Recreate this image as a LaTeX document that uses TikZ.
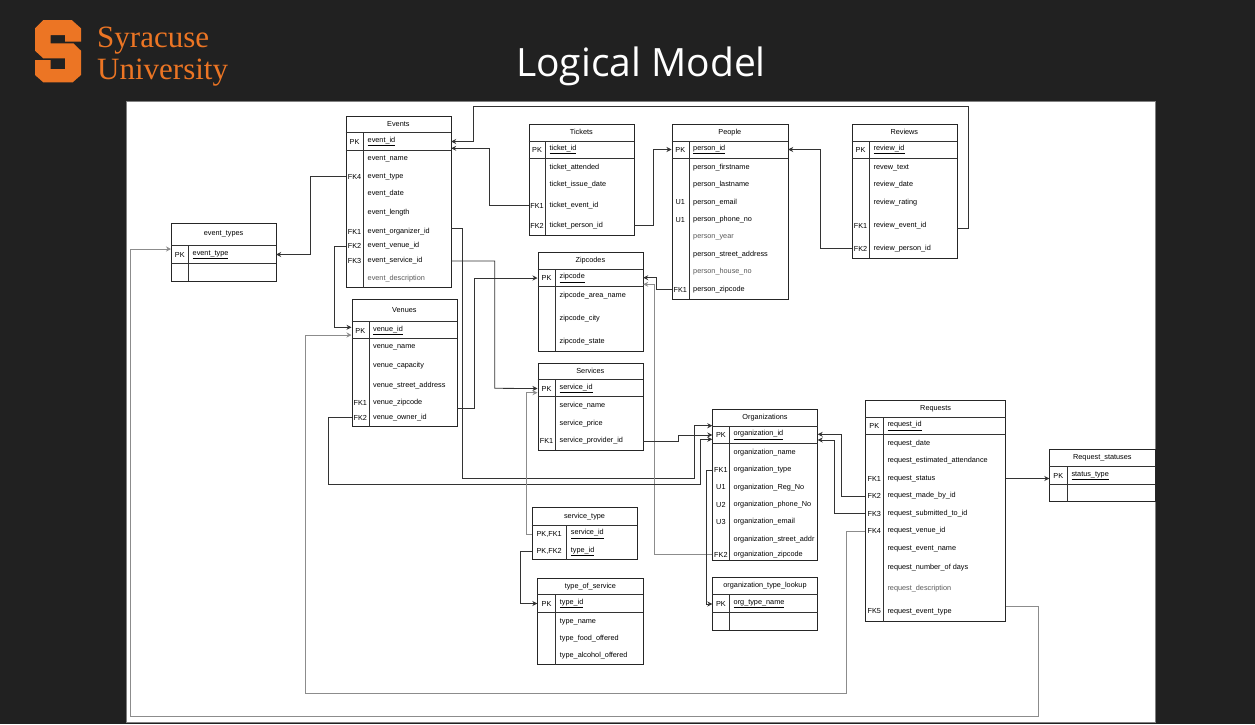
\documentclass[tikz,border=0pt]{standalone}
\usepackage{fontspec}
\setmainfont{Liberation Sans}
\newfontfamily\logofont{Liberation Serif}
\newfontfamily\slidefont{Open Sans}
\usetikzlibrary{positioning,arrows.meta}

\definecolor{slidebg}{HTML}{212121}
\definecolor{suorange}{HTML}{EC7524}

\tikzset{
    tablebox/.style={rectangle, draw=black!85, line width=0.7pt, fill=white, anchor=north west, inner sep=0pt},
    tablerule/.style={draw=black!80, line width=0.7pt},
    titletxt/.style={font=\fontsize{7.3}{8}\selectfont, inner sep=0pt},
    keytxt/.style={font=\fontsize{7.3}{8}\selectfont, inner sep=0pt},
    fieldtxt/.style={font=\fontsize{7.3}{8}\selectfont, anchor=west, inner sep=0pt},
    link/.style={draw=black!80, line width=0.8pt, -{Stealth[length=5pt,width=5pt]}},
    faintlink/.style={link, draw=black!45}
}

% name, x, y, width, height, title, title rule y, key column width
\newcommand{\erframe}[8]{
    \node[tablebox, minimum width=#4pt, minimum height=#5pt] (#1) at (#2,#3) {};
    \node[titletxt] (#1-title) at (#1.north |- 0,{(#3+#7)/2}) {#6};
    \draw[tablerule] (#1.west |- 0,#7) -- (#1.east |- 0,#7);
    \draw[tablerule] ([xshift=#8pt]#1.west |- 0,#7) -- ([xshift=#8pt]#1.south west);
}
% table, key column width, rows
\newcommand{\errows}[3]{
    \foreach \rowid/\rowy/\rowkey/\rowtxt in {#3} {
        \node[keytxt] (#1-\rowid-key) at ([xshift=0.5*#2pt]#1.west |- 0,\rowy) {\rowkey};
        \node[fieldtxt] (#1-\rowid) at ([xshift=#2pt+4pt]#1.west |- 0,\rowy) {\rowtxt};
    }
}
\newcommand{\lite}[1]{\textcolor{black!65}{#1}}

\begin{document}
\begin{tikzpicture}[x=1pt, y=-1pt]
    \useasboundingbox (0,0) rectangle (1255,724);
    \fill[slidebg] (0,0) rectangle (1255,724);
    \draw[black!50, fill=white, line width=0.8pt] (126.5,101.5) rectangle (1155.5,722);

    % Logo and title
    \fill[suorange] (35,28.3) -- (43.3,20) -- (71.7,20) -- (81,28.3) -- (81,41.7) -- (65,41.7) -- (65,35) -- (50.7,35)
        -- (50.7,43.3) -- (73.3,43.3) -- (81,50.7) -- (81,75) -- (72.7,82.3) -- (43.3,82.3) -- (35,75) -- (35,60)
        -- (50.7,60) -- (50.7,69) -- (65,69) -- (65,58.3) -- (43.3,58.3) -- (35,50.7) -- cycle;
    \node[anchor=base west, inner sep=0pt, text=suorange, font=\logofont\fontsize{31}{32}\selectfont] (logotop) at (97,47) {Syracuse};
    \node[anchor=base west, inner sep=0pt, text=suorange, font=\logofont\fontsize{31}{32}\selectfont] (logobottom) at (97,79.5) {University};
    \node[anchor=base, inner sep=0pt, text=white, font=\slidefont\fontsize{39}{40}\selectfont] (slidetitle) at (641,76) {Logical Model};

    % Tables
    \erframe{events}{345.5}{115.5}{105}{171.5}{Events}{132.5}{18}
    \draw[tablerule] (events.west |- 0,150.5) -- (events.east |- 0,150.5);
    \errows{events}{18}{id/141.5/PK/\underline{event\_id}, name/159//event\_name, type/176.5/FK4/event\_type,
        date/194//event\_date, length/213//event\_length, org/232/FK1/event\_organizer\_id,
        venue/246/FK2/event\_venue\_id, service/261/FK3/event\_service\_id, descr/278.5//\lite{event\_description}}

    \erframe{etypes}{171}{222.5}{104.5}{58}{event\_types}{245.5}{17.5}
    \draw[tablerule] (etypes.west |- 0,263.5) -- (etypes.east |- 0,263.5);
    \errows{etypes}{17.5}{type/254.5/PK/\underline{event\_type}}

    \erframe{tickets}{528.5}{123.5}{105}{111}{Tickets}{141}{17}
    \draw[tablerule] (tickets.west |- 0,158.5) -- (tickets.east |- 0,158.5);
    \errows{tickets}{17}{id/149.5/PK/\underline{ticket\_id}, attended/167.5//ticket\_attended, issue/185//ticket\_issue\_date,
        event/205.5/FK1/ticket\_event\_id, person/225.5/FK2/ticket\_person\_id}

    \erframe{people}{671.5}{123.5}{116}{175}{People}{141}{17.5}
    \draw[tablerule] (people.west |- 0,158.5) -- (people.east |- 0,158.5);
    \errows{people}{17.5}{id/149.5/PK/\underline{person\_id}, first/167.5//person\_firstname, last/185//person\_lastname,
        email/202.5/U1/person\_email, phone/220/U1/person\_phone\_no, year/237.5//\lite{person\_year},
        street/254.5//person\_street\_address, house/272//\lite{person\_house\_no}, zip/289.5/FK1/person\_zipcode}

    \erframe{reviews}{851.5}{123.5}{105}{134}{Reviews}{141}{18}
    \draw[tablerule] (reviews.west |- 0,158.5) -- (reviews.east |- 0,158.5);
    \errows{reviews}{18}{id/149.5/PK/\underline{review\_id}, text/167.5//revew\_text, date/185//review\_date,
        rating/202.5//review\_rating, event/225.5/FK1/review\_event\_id, person/248.5/FK2/review\_person\_id}

    \erframe{zipcodes}{537.5}{251.5}{105}{99}{Zipcodes}{269.5}{18}
    \draw[tablerule] (zipcodes.west |- 0,286.5) -- (zipcodes.east |- 0,286.5);
    \errows{zipcodes}{18}{id/278/PK/\underline{zipcode}, area/296//zipcode\_area\_name, city/318.5//zipcode\_city, state/342//zipcode\_state}

    \erframe{venues}{351.5}{298.5}{105}{127.5}{Venues}{321.5}{17.5}
    \draw[tablerule] (venues.west |- 0,338.5) -- (venues.east |- 0,338.5);
    \errows{venues}{17.5}{id/330.5/PK/\underline{venue\_id}, name/347.5//venue\_name, capacity/365.5//venue\_capacity,
        street/385.5//venue\_street\_address, zip/403/FK1/venue\_zipcode, owner/417.5/FK2/venue\_owner\_id}

    \erframe{services}{537.5}{362.5}{105}{87}{Services}{379.5}{18}
    \draw[tablerule] (services.west |- 0,396.7) -- (services.east |- 0,396.7);
    \errows{services}{18}{id/388.5/PK/\underline{service\_id}, name/406//service\_name, price/423.5//service\_price,
        provider/441/FK1/service\_provider\_id}

    \erframe{orgs}{712.3}{408.5}{104.7}{151}{Organizations}{426.5}{17.2}
    \draw[tablerule] (orgs.west |- 0,443.5) -- (orgs.east |- 0,443.5);
    \errows{orgs}{17.2}{id/435/PK/\underline{organization\_id}, name/452.5//organization\_name, type/470/FK1/organization\_type,
        reg/487.5/U1/organization\_Reg\_No, phone/505/U2/organization\_phone\_No, email/522/U3/organization\_email,
        street/539.5//organization\_street\_addr, zip/554.5/FK2/organization\_zipcode}

    \erframe{orglookup}{712.3}{577.3}{104.7}{52.2}{organization\_type\_lookup}{594.7}{17.2}
    \draw[tablerule] (orglookup.west |- 0,612.7) -- (orglookup.east |- 0,612.7);
    \errows{orglookup}{17.2}{name/604/PK/\underline{org\_type\_name}}

    \erframe{requests}{865.3}{399.7}{140}{221.3}{Requests}{417.3}{18}
    \draw[tablerule] (requests.west |- 0,434.3) -- (requests.east |- 0,434.3);
    \errows{requests}{18}{id/426/PK/\underline{request\_id}, date/443.5//request\_date, attend/461//request\_estimated\_attendance,
        status/478.5/FK1/request\_status, made/496/FK2/request\_made\_by\_id, sub/513.5/FK3/request\_submitted\_to\_id,
        venue/531/FK4/request\_venue\_id, name/548.5//request\_event\_name, days/567.5//request\_number\_of days,
        descr/589//\lite{request\_description}, type/611.5/FK5/request\_event\_type}

    \erframe{statuses}{1049.3}{449.3}{105.4}{52}{Request\_statuses}{466.7}{18}
    \draw[tablerule] (statuses.west |- 0,484.3) -- (statuses.east |- 0,484.3);
    \errows{statuses}{18}{type/476/PK/\underline{status\_type}}

    \erframe{servtype}{531.7}{507.3}{105}{52}{service\_type}{525}{35}
    \errows{servtype}{35}{service/534/{PK,FK1}/\underline{service\_id}, type/551.5/{PK,FK2}/\underline{type\_id}}

    \erframe{typeserv}{537.3}{577.7}{105.4}{86.6}{type\_of\_service}{594.7}{18.4}
    \draw[tablerule] (typeserv.west |- 0,612.3) -- (typeserv.east |- 0,612.3);
    \errows{typeserv}{18.4}{id/603.5/PK/\underline{type\_id}, name/621.5//type\_name, food/638.5//type\_food\_offered,
        alcohol/656//type\_alcohol\_offered}

    % Connector ends that sit beside a row
    \coordinate (events-in2) at (events.east |- 0,148.3);
    \coordinate (reviews-out) at (reviews.east |- 0,228.5);
    \coordinate (venues-in1) at (venues.west |- 0,327.3);
    \coordinate (venues-in2) at (venues.west |- 0,335);
    \coordinate (venues-out) at (venues.east |- 0,408.3);
    \coordinate (zip-in1) at (zipcodes.east |- 0,277.7);
    \coordinate (zip-in2) at (zipcodes.east |- 0,284.3);
    \coordinate (events-org) at (events.east |- 0,228.3);
    \coordinate (services-in2) at (services.west |- 0,392.7);
    \coordinate (orgs-in1) at (orgs.west |- 0,425.7);
    \coordinate (orgs-in3) at (orgs.west |- 0,439.3);
    \coordinate (orgs-in4) at (orgs.east |- 0,434.3);
    \coordinate (orgs-in5) at (orgs.east |- 0,440);
    \coordinate (requests-fk5) at (requests.east |- 0,606.7);
    \coordinate (etypes-in) at (etypes.west |- 0,249);

    % Foreign keys
    \draw[link] (events.west |- events-type) -- ++(-35,0) |- (etypes.east |- etypes-type);
    \draw[link] (events.west |- events-venue) -- ++(-11,0) |- (venues-in1);
    \draw[link] (events-org) -| (462.5,478) -| (694.7,425.7) -- (orgs-in1);
    \draw[link] (events.east |- events-service) -| (494.7,388.3) -- (services.west |- services-id);
    \draw[link] (reviews-out) -| (968.5,106.5) -| (473.5,141.5) -- (events.east |- events-id);
    \draw[link] (tickets.west |- tickets-event) -- ++(-38.8,0) |- (events-in2);
    \draw[link] (tickets.east |- tickets-person) -- ++(19,0) |- (people.west |- people-id);
    \draw[link] (reviews.west |- reviews-person) -- ++(-31.5,0) |- (people.east |- people-id);
    \draw[link] (people.west |- people-zip) -- ++(-14.8,0) |- (zip-in1);
    \draw[faintlink] (orgs.west |- orgs-zip) -- ++(-58,0) |- (zip-in2);
    \draw[link] (venues-out) -- ++(17,0) |- (zipcodes.west |- zipcodes-id);
    \draw[link] (venues.west |- venues-owner) -- ++(-23.2,0) |- (700,484.3) |- (orgs-in3);
    \draw[link] (services.east |- services-provider) -- ++(35.5,0) |- (orgs.west |- orgs-id);
    \draw[faintlink] (servtype.west |- servtype-service) -- ++(-5.7,0) |- (services-in2);
    \draw[link] (servtype.west |- servtype-type) -- ++(-11,0) |- (typeserv.west |- typeserv-id);
    \draw[link] (orgs.west |- orgs-type) -- ++(-5.8,0) |- (orglookup.west |- orglookup-name);
    \draw[link] (requests.west |- requests-made) -- ++(-23.6,0) |- (orgs-in4);
    \draw[link] (requests.west |- requests-sub) -- ++(-31,0) |- (orgs-in5);
    \draw[faintlink] (requests.west |- requests-venue) -| (846.5,693.3) -| (305,335) -- (venues-in2);
    \draw[link] (requests.east |- requests-status) -- (statuses.west |- requests-status);
    \draw[faintlink] (requests-fk5) -| (1038.3,716.7) -| (130.3,249) -- (etypes-in);
\end{tikzpicture}
\end{document}
